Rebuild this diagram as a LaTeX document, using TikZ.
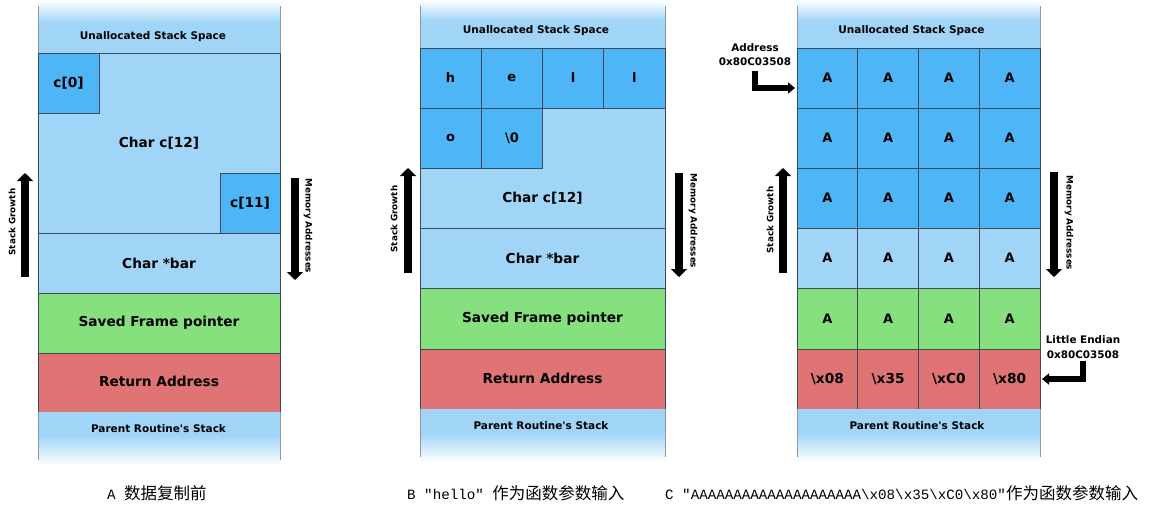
\documentclass[tikz,border=0pt]{standalone}
\usepackage{fontspec}
\setmainfont{DejaVu Sans}
\newfontfamily\cjk{Noto Sans CJK SC}
\newfontfamily\capmono{Liberation Mono}
\usetikzlibrary{arrows.meta}
\definecolor{lblue}{HTML}{A0D5F7}
\definecolor{dblue}{HTML}{4EB5F6}
\definecolor{sgreen}{HTML}{87E07E}
\definecolor{sred}{HTML}{E07474}
\definecolor{edgec}{HTML}{3A4A5A}
\definecolor{sideedge}{HTML}{8A9BAA}
\newcommand\capM{\capmono\fontsize{14.2}{17}\selectfont}
\newcommand\capC{\cjk\fontsize{16.5}{19}\selectfont}
\begin{document}
\begin{tikzpicture}[x=1pt,y=-1pt,
  cell/.style={draw=edgec, line width=0.8pt, inner sep=0pt, outer sep=0pt,
    font=\bfseries\fontsize{13}{15}\selectfont, text=black},
  biglbl/.style={font=\bfseries\fontsize{13.7}{16}\selectfont},
  smalllbl/.style={font=\bfseries\fontsize{10.5}{12}\selectfont, inner sep=0pt},
  sidelbl/.style={font=\bfseries\fontsize{8.8}{10}\selectfont, inner sep=0pt},
  annot/.style={font=\bfseries\fontsize{10.4}{14.5}\selectfont, align=center, inner sep=0pt},
  growarrow/.style={line width=8pt, -{Triangle[width=16pt,length=8pt]}},
  ptrarrow/.style={line width=6pt, line join=miter, -{Triangle[width=11pt,length=7pt]}},
  side/.style={sideedge, line width=0.8pt},
  caption/.style={anchor=west, inner sep=0pt}
]
\useasboundingbox (0,0) rectangle (1161,509);
\fill[white] (0,0) rectangle (1161,509);

% ---------------- Panel A ----------------
\fill[lblue] (38,22) rectangle (280,53);
\shade[top color=white,bottom color=lblue] (38,0) rectangle (280,22.5);
\node[smalllbl] (aUn) at (153,37) {Unallocated Stack Space};
\node[cell, biglbl, fill=lblue, minimum width=242pt, minimum height=180pt] (aC) at (159,143) {Char c[12]};
\node[cell, biglbl, fill=dblue, minimum width=61pt, minimum height=60pt] (a0) at (68.5,83) {c[0]};
\node[cell, biglbl, fill=dblue, minimum width=60pt, minimum height=60pt] (a11) at (250,203) {c[11]};
\node[cell, biglbl, fill=lblue, minimum width=242pt, minimum height=60pt] (aBar) at (159,263) {Char *bar};
\node[cell, biglbl, fill=sgreen, minimum width=242pt, minimum height=60pt] (aSfp) at (159,323) {\raisebox{2pt}{Saved Frame pointer}};
\node[cell, biglbl, fill=sred, minimum width=242pt, minimum height=59pt] (aRet) at (159,382.5) {\raisebox{2pt}{Return Address}};
\fill[lblue] (38,412.4) rectangle (280,436);
\shade[top color=lblue,bottom color=white] (38,435.5) rectangle (280,465);
\node[smalllbl] (aPar) at (158.5,429) {Parent Routine\textquotesingle s Stack};
\draw[side] (38,6)--(38,53) (280,6)--(280,53) (38,412)--(38,460) (280,412)--(280,460);
\coordinate (aGs) at (25,277); \coordinate (aGe) at (25,173);
\draw[growarrow] (aGs) -- (aGe);
\node[sidelbl, rotate=90] (aGl) at (12,222) {Stack Growth};
\coordinate (aMs) at (295,178); \coordinate (aMe) at (295,280);
\draw[growarrow] (aMs) -- (aMe);
\node[sidelbl, rotate=-90] (aMl) at (308,226) {Memory Addresses};

% ---------------- Panel B ----------------
\fill[lblue] (420,20) rectangle (665,48);
\shade[top color=white,bottom color=lblue] (420,0) rectangle (665,20.5);
\node[smalllbl] (bUn) at (536,31) {Unallocated Stack Space};
\node[cell, fill=lblue, minimum width=245pt, minimum height=180pt] (bC) at (542.5,138) {};
\node[biglbl, inner sep=0pt] (bCl) at (542.5,198) {Char c[12]};
\node[cell, fill=dblue, minimum width=61.25pt, minimum height=60pt] (bh) at (450.6,78) {h};
\node[cell, fill=dblue, minimum width=61.25pt, minimum height=60pt] (be) at (511.9,78) {e};
\node[cell, fill=dblue, minimum width=61.25pt, minimum height=60pt] (bl1) at (573.1,78) {l};
\node[cell, fill=dblue, minimum width=61.25pt, minimum height=60pt] (bl2) at (634.4,78) {l};
\node[cell, fill=dblue, minimum width=61.25pt, minimum height=60pt] (bo) at (450.6,138) {o};
\node[cell, fill=dblue, minimum width=61.25pt, minimum height=60pt] (bz) at (511.9,138) {\textbackslash 0};
\node[cell, biglbl, fill=lblue, minimum width=245pt, minimum height=60pt] (bBar) at (542.5,258) {Char *bar};
\node[cell, biglbl, fill=sgreen, minimum width=245pt, minimum height=61pt] (bSfp) at (542.5,318.5) {\raisebox{2pt}{Saved Frame pointer}};
\node[cell, biglbl, fill=sred, minimum width=245pt, minimum height=60pt] (bRet) at (542.5,379) {\raisebox{2pt}{Return Address}};
\fill[lblue] (420,409.4) rectangle (665,433);
\shade[top color=lblue,bottom color=white] (420,432.5) rectangle (665,462);
\node[smalllbl] (bPar) at (541,426) {Parent Routine\textquotesingle s Stack};
\draw[side] (420,6)--(420,48) (665,6)--(665,48) (420,409)--(420,457) (665,409)--(665,457);
\coordinate (bGs) at (408,273); \coordinate (bGe) at (408,168);
\draw[growarrow] (bGs) -- (bGe);
\node[sidelbl, rotate=90] (bGl) at (394,219) {Stack Growth};
\coordinate (bMs) at (679,173); \coordinate (bMe) at (679,277);
\draw[growarrow] (bMs) -- (bMe);
\node[sidelbl, rotate=-90] (bMl) at (693,221) {Memory Addresses};

% ---------------- Panel C ----------------
\fill[lblue] (797,20) rectangle (1040,48);
\shade[top color=white,bottom color=lblue] (797,0) rectangle (1040,20.5);
\node[smalllbl] (cUn) at (911.5,31) {Unallocated Stack Space};
\foreach \r/\yc/\h/\col in {1/78/60/dblue, 2/138/60/dblue, 3/198/60/dblue, 4/258/60/lblue, 5/318.5/61/sgreen}
  \foreach \c in {1,2,3,4}
    \node[cell, fill=\col, minimum width=60.75pt, minimum height=\h pt] (cA-\r-\c) at ({797+60.75*(\c-0.5)},\yc) {A};
\foreach \c/\t in {1/{\textbackslash x08}, 2/{\textbackslash x35}, 3/{\textbackslash xC0}, 4/{\textbackslash x80}}
  \node[cell, biglbl, fill=sred, minimum width=60.75pt, minimum height=60pt] (cR-\c) at ({797+60.75*(\c-0.5)},379) {\t};
\fill[lblue] (797,409.4) rectangle (1040,433);
\shade[top color=lblue,bottom color=white] (797,432.5) rectangle (1040,462);
\node[smalllbl] (cPar) at (917,426) {Parent Routine\textquotesingle s Stack};
\draw[side] (797,6)--(797,48) (1040,6)--(1040,48) (797,409)--(797,457) (1040,409)--(1040,457);
\coordinate (cGs) at (783,273); \coordinate (cGe) at (783,168);
\draw[growarrow] (cGs) -- (cGe);
\node[sidelbl, rotate=90] (cGl) at (770,220) {Stack Growth};
\coordinate (cMs) at (1054,172); \coordinate (cMe) at (1054,277);
\draw[growarrow] (cMs) -- (cMe);
\node[sidelbl, rotate=-90] (cMl) at (1069,223) {Memory Addresses};

\node[annot] (addr) at (755,54.5) {Address\\0x80C03508};
\coordinate (addrS) at (755,71); \coordinate (addrT) at (795,88);
\draw[ptrarrow] (addrS) |- (addrT);
\node[annot] (le) at (1083,347) {Little Endian\\0x80C03508};
\coordinate (leS) at (1083,361); \coordinate (leT) at (1042,379);
\draw[ptrarrow] (leS) |- (leT);

% ---------------- Captions ----------------
\node[caption] (capA) at (107,493) {{\capM A }{\capC 数据复制前}};
\node[caption] (capB) at (407,493) {{\capM B ″hello″ }{\capC 作为函数参数输入}};
\node[caption] (capC) at (665,493) {{\capM C ″AAAAAAAAAAAAAAAAAAAA\textbackslash x08\textbackslash x35\textbackslash xC0\textbackslash x80″}{\capC 作为函数参数输入}};
\end{tikzpicture}
\end{document}
